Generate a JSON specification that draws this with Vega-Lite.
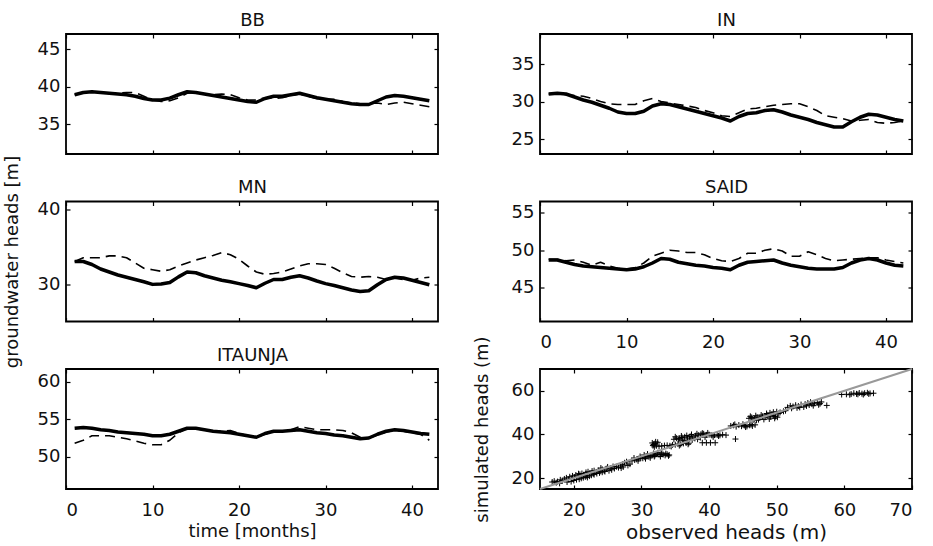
{
  "$schema": "https://vega.github.io/schema/vega-lite/v6.json",
  "background": "white",
  "padding": {"left": 2, "top": 10, "right": 5, "bottom": 5},
  "columns": 2,
  "spacing": {"row": 47.5, "column": 102},
  "bounds": "flush",
  "config": {
    "font": "DejaVu Sans",
    "view": {"stroke": "black", "strokeWidth": 1.8},
    "axis": {"domain": false, "grid": false, "tickColor": "black", "tickSize": -4, "tickWidth": 1.2,
             "labelFont": "DejaVu Sans", "labelFontSize": 18, "labelColor": "#111", "labelPadding": 10,
             "titleFont": "DejaVu Sans", "titleFontSize": 18, "titleFontWeight": "normal", "titleColor": "#111"},
    "axisBottom": {"labelPadding": 16, "titlePadding": 3},
    "axisLeft": {"titlePadding": 16},
    "axisTop": {"titlePadding": 4},
    "line": {"strokeJoin": "round"}
  },
  "datasets": {
    "ts": [
      {"site":"BB","t":1,"sim":38.9,"obs":38.9},{"site":"BB","t":2,"sim":39.2,"obs":39.2},{"site":"BB","t":3,"sim":39.3,"obs":39.3},{"site":"BB","t":4,"sim":39.2,"obs":39.2},{"site":"BB","t":5,"sim":39.1,"obs":39.1},{"site":"BB","t":6,"sim":39.0,"obs":39.1},{"site":"BB","t":7,"sim":38.9,"obs":39.2},{"site":"BB","t":8,"sim":38.7,"obs":39.2},{"site":"BB","t":9,"sim":38.4,"obs":38.7},{"site":"BB","t":10,"sim":38.2,"obs":38.2},{"site":"BB","t":11,"sim":38.2,"obs":38.0},{"site":"BB","t":12,"sim":38.45,"obs":38.1},{"site":"BB","t":13,"sim":38.9,"obs":38.5},{"site":"BB","t":14,"sim":39.3,"obs":39.1},{"site":"BB","t":15,"sim":39.2,"obs":39.2},{"site":"BB","t":16,"sim":39.0,"obs":39.0},{"site":"BB","t":17,"sim":38.8,"obs":38.9},{"site":"BB","t":18,"sim":38.6,"obs":39.0},{"site":"BB","t":19,"sim":38.4,"obs":38.9},{"site":"BB","t":20,"sim":38.2,"obs":38.5},{"site":"BB","t":21,"sim":38.0,"obs":38.2},{"site":"BB","t":22,"sim":37.9,"obs":38.2},{"site":"BB","t":23,"sim":38.4,"obs":38.5},{"site":"BB","t":24,"sim":38.7,"obs":38.4},{"site":"BB","t":25,"sim":38.7,"obs":38.5},{"site":"BB","t":26,"sim":38.9,"obs":38.8},{"site":"BB","t":27,"sim":39.1,"obs":39.0},{"site":"BB","t":28,"sim":38.8,"obs":38.7},{"site":"BB","t":29,"sim":38.5,"obs":38.4},{"site":"BB","t":30,"sim":38.3,"obs":38.3},{"site":"BB","t":31,"sim":38.1,"obs":38.3},{"site":"BB","t":32,"sim":37.9,"obs":38.0},{"site":"BB","t":33,"sim":37.7,"obs":37.8},{"site":"BB","t":34,"sim":37.6,"obs":37.7},{"site":"BB","t":35,"sim":37.6,"obs":37.7},{"site":"BB","t":36,"sim":38.1,"obs":37.8},{"site":"BB","t":37,"sim":38.6,"obs":37.6},{"site":"BB","t":38,"sim":38.8,"obs":37.8},{"site":"BB","t":39,"sim":38.7,"obs":37.9},{"site":"BB","t":40,"sim":38.5,"obs":37.7},{"site":"BB","t":41,"sim":38.3,"obs":37.5},{"site":"BB","t":42,"sim":38.1,"obs":37.3},
      {"site":"IN","t":1,"sim":31.0,"obs":31.0},{"site":"IN","t":2,"sim":31.1,"obs":31.0},{"site":"IN","t":3,"sim":31.0,"obs":30.9},{"site":"IN","t":4,"sim":30.6,"obs":30.8},{"site":"IN","t":5,"sim":30.2,"obs":30.7},{"site":"IN","t":6,"sim":29.9,"obs":30.4},{"site":"IN","t":7,"sim":29.5,"obs":30.0},{"site":"IN","t":8,"sim":29.1,"obs":29.7},{"site":"IN","t":9,"sim":28.6,"obs":29.6},{"site":"IN","t":10,"sim":28.4,"obs":29.6},{"site":"IN","t":11,"sim":28.4,"obs":29.6},{"site":"IN","t":12,"sim":28.7,"obs":30.1},{"site":"IN","t":13,"sim":29.4,"obs":30.4},{"site":"IN","t":14,"sim":29.7,"obs":30.0},{"site":"IN","t":15,"sim":29.6,"obs":29.8},{"site":"IN","t":16,"sim":29.3,"obs":29.6},{"site":"IN","t":17,"sim":29.0,"obs":29.4},{"site":"IN","t":18,"sim":28.7,"obs":29.2},{"site":"IN","t":19,"sim":28.4,"obs":28.8},{"site":"IN","t":20,"sim":28.1,"obs":28.5},{"site":"IN","t":21,"sim":27.8,"obs":28.1},{"site":"IN","t":22,"sim":27.4,"obs":28.0},{"site":"IN","t":23,"sim":28.0,"obs":28.5},{"site":"IN","t":24,"sim":28.4,"obs":29.0},{"site":"IN","t":25,"sim":28.5,"obs":29.1},{"site":"IN","t":26,"sim":28.8,"obs":29.3},{"site":"IN","t":27,"sim":28.9,"obs":29.5},{"site":"IN","t":28,"sim":28.6,"obs":29.6},{"site":"IN","t":29,"sim":28.2,"obs":29.7},{"site":"IN","t":30,"sim":27.9,"obs":29.7},{"site":"IN","t":31,"sim":27.6,"obs":29.3},{"site":"IN","t":32,"sim":27.2,"obs":28.8},{"site":"IN","t":33,"sim":26.9,"obs":28.1},{"site":"IN","t":34,"sim":26.6,"obs":27.9},{"site":"IN","t":35,"sim":26.6,"obs":27.7},{"site":"IN","t":36,"sim":27.3,"obs":27.4},{"site":"IN","t":37,"sim":27.9,"obs":27.5},{"site":"IN","t":38,"sim":28.3,"obs":27.6},{"site":"IN","t":39,"sim":28.2,"obs":27.2},{"site":"IN","t":40,"sim":27.9,"obs":27.1},{"site":"IN","t":41,"sim":27.6,"obs":27.2},{"site":"IN","t":42,"sim":27.4,"obs":27.4},
      {"site":"MN","t":1,"sim":33.0,"obs":33.0},{"site":"MN","t":2,"sim":33.0,"obs":33.5},{"site":"MN","t":3,"sim":32.6,"obs":33.5},{"site":"MN","t":4,"sim":32.0,"obs":33.5},{"site":"MN","t":5,"sim":31.6,"obs":33.75},{"site":"MN","t":6,"sim":31.2,"obs":33.75},{"site":"MN","t":7,"sim":30.9,"obs":33.5},{"site":"MN","t":8,"sim":30.6,"obs":32.8},{"site":"MN","t":9,"sim":30.3,"obs":32.1},{"site":"MN","t":10,"sim":29.95,"obs":31.9},{"site":"MN","t":11,"sim":30.0,"obs":31.7},{"site":"MN","t":12,"sim":30.2,"obs":31.9},{"site":"MN","t":13,"sim":30.95,"obs":32.4},{"site":"MN","t":14,"sim":31.6,"obs":32.8},{"site":"MN","t":15,"sim":31.5,"obs":33.2},{"site":"MN","t":16,"sim":31.1,"obs":33.5},{"site":"MN","t":17,"sim":30.8,"obs":33.8},{"site":"MN","t":18,"sim":30.5,"obs":34.2},{"site":"MN","t":19,"sim":30.3,"obs":33.9},{"site":"MN","t":20,"sim":30.05,"obs":33.3},{"site":"MN","t":21,"sim":29.8,"obs":32.4},{"site":"MN","t":22,"sim":29.5,"obs":31.6},{"site":"MN","t":23,"sim":30.1,"obs":31.3},{"site":"MN","t":24,"sim":30.6,"obs":31.4},{"site":"MN","t":25,"sim":30.6,"obs":31.6},{"site":"MN","t":26,"sim":30.9,"obs":32.0},{"site":"MN","t":27,"sim":31.1,"obs":32.4},{"site":"MN","t":28,"sim":30.8,"obs":32.7},{"site":"MN","t":29,"sim":30.4,"obs":32.7},{"site":"MN","t":30,"sim":30.05,"obs":32.6},{"site":"MN","t":31,"sim":29.8,"obs":32.1},{"site":"MN","t":32,"sim":29.5,"obs":31.5},{"site":"MN","t":33,"sim":29.2,"obs":31.0},{"site":"MN","t":34,"sim":29.0,"obs":30.9},{"site":"MN","t":35,"sim":29.1,"obs":31.0},{"site":"MN","t":36,"sim":29.9,"obs":30.9},{"site":"MN","t":37,"sim":30.6,"obs":30.6},{"site":"MN","t":38,"sim":30.9,"obs":30.8},{"site":"MN","t":39,"sim":30.8,"obs":30.6},{"site":"MN","t":40,"sim":30.5,"obs":30.5},{"site":"MN","t":41,"sim":30.2,"obs":30.8},{"site":"MN","t":42,"sim":29.9,"obs":30.9},
      {"site":"SAID","t":1,"sim":48.7,"obs":48.8},{"site":"SAID","t":2,"sim":48.7,"obs":48.8},{"site":"SAID","t":3,"sim":48.4,"obs":48.6},{"site":"SAID","t":4,"sim":48.1,"obs":48.7},{"site":"SAID","t":5,"sim":47.9,"obs":48.4},{"site":"SAID","t":6,"sim":47.8,"obs":48.0},{"site":"SAID","t":7,"sim":47.7,"obs":48.4},{"site":"SAID","t":8,"sim":47.6,"obs":47.9},{"site":"SAID","t":9,"sim":47.5,"obs":47.6},{"site":"SAID","t":10,"sim":47.4,"obs":47.5},{"site":"SAID","t":11,"sim":47.5,"obs":47.7},{"site":"SAID","t":12,"sim":47.8,"obs":48.3},{"site":"SAID","t":13,"sim":48.3,"obs":49.2},{"site":"SAID","t":14,"sim":48.9,"obs":49.6},{"site":"SAID","t":15,"sim":48.8,"obs":50.0},{"site":"SAID","t":16,"sim":48.4,"obs":49.9},{"site":"SAID","t":17,"sim":48.2,"obs":49.7},{"site":"SAID","t":18,"sim":48.0,"obs":49.7},{"site":"SAID","t":19,"sim":47.9,"obs":49.4},{"site":"SAID","t":20,"sim":47.7,"obs":48.9},{"site":"SAID","t":21,"sim":47.6,"obs":48.6},{"site":"SAID","t":22,"sim":47.4,"obs":48.5},{"site":"SAID","t":23,"sim":48.0,"obs":48.9},{"site":"SAID","t":24,"sim":48.4,"obs":49.6},{"site":"SAID","t":25,"sim":48.5,"obs":49.6},{"site":"SAID","t":26,"sim":48.6,"obs":50.0},{"site":"SAID","t":27,"sim":48.7,"obs":50.2},{"site":"SAID","t":28,"sim":48.3,"obs":49.9},{"site":"SAID","t":29,"sim":48.0,"obs":49.2},{"site":"SAID","t":30,"sim":47.8,"obs":49.2},{"site":"SAID","t":31,"sim":47.6,"obs":49.8},{"site":"SAID","t":32,"sim":47.5,"obs":49.4},{"site":"SAID","t":33,"sim":47.5,"obs":48.9},{"site":"SAID","t":34,"sim":47.5,"obs":48.6},{"site":"SAID","t":35,"sim":47.7,"obs":48.7},{"site":"SAID","t":36,"sim":48.3,"obs":48.8},{"site":"SAID","t":37,"sim":48.7,"obs":48.9},{"site":"SAID","t":38,"sim":48.9,"obs":49.0},{"site":"SAID","t":39,"sim":48.7,"obs":49.0},{"site":"SAID","t":40,"sim":48.3,"obs":48.7},{"site":"SAID","t":41,"sim":48.0,"obs":48.5},{"site":"SAID","t":42,"sim":47.9,"obs":48.3},
      {"site":"ITAUNJA","t":1,"sim":53.8,"obs":51.8},{"site":"ITAUNJA","t":2,"sim":53.9,"obs":52.2},{"site":"ITAUNJA","t":3,"sim":53.8,"obs":52.8},{"site":"ITAUNJA","t":4,"sim":53.6,"obs":52.8},{"site":"ITAUNJA","t":5,"sim":53.5,"obs":52.8},{"site":"ITAUNJA","t":6,"sim":53.3,"obs":52.6},{"site":"ITAUNJA","t":7,"sim":53.2,"obs":52.4},{"site":"ITAUNJA","t":8,"sim":53.1,"obs":52.1},{"site":"ITAUNJA","t":9,"sim":53.0,"obs":51.8},{"site":"ITAUNJA","t":10,"sim":52.8,"obs":51.6},{"site":"ITAUNJA","t":11,"sim":52.8,"obs":51.6},{"site":"ITAUNJA","t":12,"sim":53.0,"obs":52.2},{"site":"ITAUNJA","t":13,"sim":53.4,"obs":53.2},{"site":"ITAUNJA","t":14,"sim":53.8,"obs":53.8},{"site":"ITAUNJA","t":15,"sim":53.8,"obs":53.7},{"site":"ITAUNJA","t":16,"sim":53.6,"obs":53.6},{"site":"ITAUNJA","t":17,"sim":53.4,"obs":53.4},{"site":"ITAUNJA","t":18,"sim":53.3,"obs":53.4},{"site":"ITAUNJA","t":19,"sim":53.2,"obs":53.5},{"site":"ITAUNJA","t":20,"sim":53.0,"obs":53.1},{"site":"ITAUNJA","t":21,"sim":52.8,"obs":52.8},{"site":"ITAUNJA","t":22,"sim":52.6,"obs":52.6},{"site":"ITAUNJA","t":23,"sim":53.1,"obs":53.0},{"site":"ITAUNJA","t":24,"sim":53.4,"obs":53.3},{"site":"ITAUNJA","t":25,"sim":53.4,"obs":53.4},{"site":"ITAUNJA","t":26,"sim":53.5,"obs":53.6},{"site":"ITAUNJA","t":27,"sim":53.6,"obs":54.0},{"site":"ITAUNJA","t":28,"sim":53.4,"obs":53.8},{"site":"ITAUNJA","t":29,"sim":53.2,"obs":53.6},{"site":"ITAUNJA","t":30,"sim":53.1,"obs":53.6},{"site":"ITAUNJA","t":31,"sim":52.9,"obs":53.6},{"site":"ITAUNJA","t":32,"sim":52.8,"obs":53.5},{"site":"ITAUNJA","t":33,"sim":52.6,"obs":53.2},{"site":"ITAUNJA","t":34,"sim":52.4,"obs":52.6},{"site":"ITAUNJA","t":35,"sim":52.5,"obs":52.5},{"site":"ITAUNJA","t":36,"sim":53.0,"obs":52.9},{"site":"ITAUNJA","t":37,"sim":53.4,"obs":53.3},{"site":"ITAUNJA","t":38,"sim":53.6,"obs":53.5},{"site":"ITAUNJA","t":39,"sim":53.5,"obs":53.4},{"site":"ITAUNJA","t":40,"sim":53.3,"obs":53.2},{"site":"ITAUNJA","t":41,"sim":53.1,"obs":53.0},{"site":"ITAUNJA","t":42,"sim":53.0,"obs":52.2}
    ],
    "scatter": [
      {"obs":16.8,"sim":18.2},{"obs":17.1,"sim":18.6},{"obs":17.4,"sim":17.9},{"obs":17.6,"sim":18.4},{"obs":17.9,"sim":17.6},{"obs":18.3,"sim":18.9},{"obs":18.6,"sim":19.6},{"obs":18.9,"sim":20.1},{"obs":19.2,"sim":19.4},{"obs":19.0,"sim":18.2},
      {"obs":19.4,"sim":20.6},{"obs":19.8,"sim":21.0},{"obs":20.1,"sim":20.4},{"obs":20.3,"sim":21.4},{"obs":20.6,"sim":20.9},{"obs":20.9,"sim":21.7},{"obs":21.2,"sim":22.1},{"obs":21.5,"sim":21.5},{"obs":21.8,"sim":22.6},{"obs":22.1,"sim":22.9},{"obs":22.4,"sim":22.3},{"obs":22.7,"sim":23.2},{"obs":23.0,"sim":23.4},{"obs":23.3,"sim":22.8},{"obs":23.6,"sim":23.5},{"obs":23.9,"sim":23.1},{"obs":24.2,"sim":24.0},{"obs":24.5,"sim":23.3},{"obs":24.8,"sim":24.3},{"obs":25.0,"sim":25.1},
      {"obs":19.6,"sim":18.4},{"obs":20.0,"sim":18.9},{"obs":20.4,"sim":19.3},{"obs":20.8,"sim":19.5},{"obs":21.1,"sim":19.9},{"obs":21.4,"sim":20.2},{"obs":21.7,"sim":20.6},{"obs":22.0,"sim":20.3},{"obs":22.3,"sim":20.9},{"obs":22.6,"sim":21.3},{"obs":23.0,"sim":21.6},{"obs":23.4,"sim":22.1},{"obs":23.8,"sim":22.4},{"obs":24.2,"sim":22.7},{"obs":24.6,"sim":23.0},{"obs":25.2,"sim":23.4},{"obs":25.6,"sim":23.8},{"obs":26.0,"sim":24.4},
      {"obs":18.0,"sim":19.2},{"obs":19.7,"sim":19.8},{"obs":20.7,"sim":22.0},{"obs":21.9,"sim":21.1},{"obs":22.9,"sim":22.0},{"obs":24.0,"sim":24.6},{"obs":25.4,"sim":24.6},{"obs":25.8,"sim":25.3},
      {"obs":26.3,"sim":25.2},{"obs":26.6,"sim":24.8},{"obs":26.9,"sim":25.6},{"obs":27.2,"sim":26.3},{"obs":27.5,"sim":27.0},{"obs":27.8,"sim":27.5},{"obs":27.3,"sim":25.1},{"obs":28.0,"sim":25.8},{"obs":28.3,"sim":26.4},{"obs":27.0,"sim":24.6},
      {"obs":28.6,"sim":27.9},{"obs":29.0,"sim":28.3},{"obs":29.3,"sim":28.6},{"obs":29.6,"sim":28.9},{"obs":29.9,"sim":29.3},{"obs":30.2,"sim":29.1},{"obs":30.5,"sim":29.6},{"obs":30.8,"sim":30.0},{"obs":31.1,"sim":29.8},{"obs":31.4,"sim":30.3},{"obs":31.7,"sim":30.6},{"obs":32.0,"sim":30.4},{"obs":32.3,"sim":30.9},{"obs":32.6,"sim":30.7},{"obs":32.9,"sim":31.0},{"obs":33.2,"sim":30.8},{"obs":33.5,"sim":30.4},{"obs":33.8,"sim":30.9},{"obs":34.1,"sim":30.6},{"obs":33.0,"sim":31.5},{"obs":32.4,"sim":31.6},{"obs":31.8,"sim":31.3},{"obs":30.9,"sim":31.0},{"obs":29.8,"sim":29.9},{"obs":30.4,"sim":30.6},
      {"obs":28.9,"sim":29.2},{"obs":29.5,"sim":27.9},{"obs":30.6,"sim":28.9},{"obs":31.3,"sim":29.3},{"obs":31.9,"sim":29.9},{"obs":32.8,"sim":29.9},{"obs":33.6,"sim":31.2},{"obs":34.0,"sim":30.2},
      {"obs":31.6,"sim":36.1},{"obs":31.8,"sim":35.4},{"obs":32.0,"sim":35.8},{"obs":32.2,"sim":34.8},{"obs":31.9,"sim":34.3},{"obs":32.4,"sim":36.4},{"obs":32.6,"sim":34.6},{"obs":33.0,"sim":34.7},{"obs":33.4,"sim":34.9},{"obs":33.8,"sim":35.0},{"obs":34.2,"sim":34.8},{"obs":34.6,"sim":35.2},{"obs":35.0,"sim":35.3},{"obs":35.4,"sim":35.6},{"obs":35.8,"sim":35.4},{"obs":36.2,"sim":35.9},{"obs":36.6,"sim":36.1},{"obs":37.0,"sim":36.0},
      {"obs":31.7,"sim":34.9},{"obs":32.1,"sim":36.6},{"obs":34.4,"sim":34.5},{"obs":35.6,"sim":34.9},{"obs":36.9,"sim":35.5},
      {"obs":34.8,"sim":37.8},{"obs":35.2,"sim":38.3},{"obs":35.6,"sim":38.1},{"obs":36.0,"sim":38.6},{"obs":36.4,"sim":38.9},{"obs":36.8,"sim":38.4},{"obs":37.2,"sim":39.1},{"obs":37.6,"sim":38.8},{"obs":38.0,"sim":39.4},{"obs":38.4,"sim":39.7},{"obs":38.8,"sim":40.1},{"obs":39.2,"sim":40.3},{"obs":39.6,"sim":39.8},{"obs":40.0,"sim":39.9},{"obs":35.5,"sim":37.6},{"obs":36.3,"sim":37.4},{"obs":37.1,"sim":37.9},{"obs":37.9,"sim":38.2},{"obs":38.7,"sim":38.6},{"obs":39.4,"sim":38.8},
      {"obs":35.0,"sim":38.9},{"obs":35.9,"sim":39.3},{"obs":36.7,"sim":39.5},{"obs":37.4,"sim":40.0},{"obs":38.2,"sim":40.3},{"obs":39.0,"sim":40.6},{"obs":39.8,"sim":40.7},{"obs":36.1,"sim":37.1},{"obs":37.5,"sim":37.5},{"obs":38.3,"sim":37.8},{"obs":40.6,"sim":38.9},{"obs":41.4,"sim":39.3},
      {"obs":39.0,"sim":36.2},{"obs":39.6,"sim":36.2},{"obs":40.2,"sim":36.2},{"obs":40.9,"sim":36.2},{"obs":40.4,"sim":39.6},{"obs":40.8,"sim":39.7},{"obs":41.2,"sim":39.8},{"obs":41.6,"sim":39.6},{"obs":42.0,"sim":39.9},{"obs":42.5,"sim":39.7},{"obs":43.9,"sim":37.9},
      {"obs":43.2,"sim":43.9},{"obs":43.6,"sim":44.2},{"obs":44.0,"sim":43.6},{"obs":44.4,"sim":44.3},{"obs":44.8,"sim":43.8},{"obs":45.2,"sim":44.1},{"obs":45.6,"sim":43.7},{"obs":46.0,"sim":44.2},{"obs":46.4,"sim":43.9},{"obs":46.8,"sim":44.4},
      {"obs":43.8,"sim":44.6},{"obs":45.0,"sim":44.7},{"obs":45.4,"sim":43.4},{"obs":46.2,"sim":44.5},
      {"obs":45.9,"sim":47.4},{"obs":46.3,"sim":47.8},{"obs":46.7,"sim":47.2},{"obs":47.1,"sim":48.0},{"obs":47.5,"sim":47.6},{"obs":47.9,"sim":48.3},{"obs":48.3,"sim":47.9},{"obs":48.7,"sim":48.5},{"obs":49.1,"sim":48.1},{"obs":49.5,"sim":48.7},{"obs":46.5,"sim":46.6},{"obs":47.3,"sim":46.8},{"obs":48.1,"sim":46.9},{"obs":48.9,"sim":47.1},{"obs":49.7,"sim":47.4},{"obs":50.1,"sim":47.9},
      {"obs":46.1,"sim":48.3},{"obs":46.9,"sim":48.6},{"obs":47.7,"sim":48.9},{"obs":48.5,"sim":49.0},{"obs":49.3,"sim":49.3},{"obs":47.0,"sim":46.5},{"obs":49.8,"sim":48.2},{"obs":50.3,"sim":49.6},{"obs":51.3,"sim":50.9},
      {"obs":48.5,"sim":49.6},{"obs":49.0,"sim":49.9},{"obs":49.5,"sim":50.2},{"obs":50.0,"sim":50.4},{"obs":50.5,"sim":50.1},{"obs":51.0,"sim":50.6},
      {"obs":51.6,"sim":52.4},{"obs":52.0,"sim":53.1},{"obs":52.4,"sim":52.8},{"obs":52.8,"sim":53.4},{"obs":53.2,"sim":53.0},{"obs":53.6,"sim":53.7},{"obs":54.0,"sim":52.6},{"obs":54.4,"sim":53.1},{"obs":54.8,"sim":53.5},{"obs":55.2,"sim":53.9},{"obs":55.6,"sim":54.3},{"obs":56.0,"sim":54.6},{"obs":56.4,"sim":54.1},{"obs":56.6,"sim":54.9},{"obs":53.0,"sim":52.2},{"obs":55.0,"sim":54.8},{"obs":57.4,"sim":53.3},
      {"obs":52.2,"sim":52.0},{"obs":53.4,"sim":52.4},{"obs":54.2,"sim":53.9},{"obs":55.4,"sim":53.2},{"obs":56.2,"sim":53.6},{"obs":54.6,"sim":54.4},
      {"obs":59.6,"sim":58.3},{"obs":60.3,"sim":58.4},{"obs":61.0,"sim":58.5},{"obs":61.4,"sim":58.9},{"obs":61.8,"sim":58.6},{"obs":62.2,"sim":59.0},{"obs":62.6,"sim":58.7},{"obs":63.0,"sim":58.9},{"obs":63.4,"sim":59.1},{"obs":63.8,"sim":58.8},{"obs":64.3,"sim":58.9},{"obs":62.0,"sim":58.4},
      {"obs":60.8,"sim":58.2},{"obs":62.8,"sim":58.3},{"obs":63.6,"sim":58.6}
    ],
    "diag": [{"obs":15,"sim":15},{"obs":70,"sim":70}]
  },
  "concat": [
    {
      "width": 372, "height": 120,
      "data": {"name": "ts"}, "transform": [{"filter": "datum.site === 'BB'"}],
      "layer": [
        {"mark": {"type": "line", "stroke": "black", "strokeWidth": 3.5},
         "encoding": {
           "x": {"field": "t", "type": "quantitative", "scale": {"domain": [0, 43], "nice": false, "zero": false}, "axis": {"orient": "bottom", "values": [0,10,20,30,40], "labels": false, "title": null}},
           "y": {"field": "sim", "type": "quantitative", "scale": {"domain": [31, 47], "nice": false, "zero": false}, "axis": {"orient": "left", "values": [35,40,45], "title": null}}}},
        {"mark": {"type": "line", "stroke": "black", "strokeWidth": 1.6, "strokeDash": [10, 6]},
         "encoding": {
           "x": {"field": "t", "type": "quantitative", "scale": {"domain": [0, 43], "nice": false, "zero": false}, "axis": {"orient": "top", "values": [0,10,20,30,40], "labels": false, "title": "BB"}},
           "y": {"field": "obs", "type": "quantitative", "scale": {"domain": [31, 47], "nice": false, "zero": false}, "axis": {"orient": "right", "values": [35,40,45], "labels": false, "title": null}}}}
      ],
      "resolve": {"axis": {"x": "independent", "y": "independent"}}
    },
    {
      "width": 372, "height": 120,
      "data": {"name": "ts"}, "transform": [{"filter": "datum.site === 'IN'"}],
      "layer": [
        {"mark": {"type": "line", "stroke": "black", "strokeWidth": 3.5},
         "encoding": {
           "x": {"field": "t", "type": "quantitative", "scale": {"domain": [0, 43], "nice": false, "zero": false}, "axis": {"orient": "bottom", "values": [0,10,20,30,40], "labels": false, "title": null}},
           "y": {"field": "sim", "type": "quantitative", "scale": {"domain": [23, 39], "nice": false, "zero": false}, "axis": {"orient": "left", "values": [25,30,35], "title": null}}}},
        {"mark": {"type": "line", "stroke": "black", "strokeWidth": 1.6, "strokeDash": [10, 6]},
         "encoding": {
           "x": {"field": "t", "type": "quantitative", "scale": {"domain": [0, 43], "nice": false, "zero": false}, "axis": {"orient": "top", "values": [0,10,20,30,40], "labels": false, "title": "IN"}},
           "y": {"field": "obs", "type": "quantitative", "scale": {"domain": [23, 39], "nice": false, "zero": false}, "axis": {"orient": "right", "values": [25,30,35], "labels": false, "title": null}}}}
      ],
      "resolve": {"axis": {"x": "independent", "y": "independent"}}
    },
    {
      "width": 372, "height": 120,
      "data": {"name": "ts"}, "transform": [{"filter": "datum.site === 'MN'"}],
      "layer": [
        {"mark": {"type": "line", "stroke": "black", "strokeWidth": 3.5},
         "encoding": {
           "x": {"field": "t", "type": "quantitative", "scale": {"domain": [0, 43], "nice": false, "zero": false}, "axis": {"orient": "bottom", "values": [0,10,20,30,40], "labels": false, "title": null}},
           "y": {"field": "sim", "type": "quantitative", "scale": {"domain": [25, 41], "nice": false, "zero": false}, "axis": {"orient": "left", "values": [30,40], "title": "groundwater heads [m]"}}}},
        {"mark": {"type": "line", "stroke": "black", "strokeWidth": 1.6, "strokeDash": [10, 6]},
         "encoding": {
           "x": {"field": "t", "type": "quantitative", "scale": {"domain": [0, 43], "nice": false, "zero": false}, "axis": {"orient": "top", "values": [0,10,20,30,40], "labels": false, "title": "MN"}},
           "y": {"field": "obs", "type": "quantitative", "scale": {"domain": [25, 41], "nice": false, "zero": false}, "axis": {"orient": "right", "values": [30,40], "labels": false, "title": null}}}}
      ],
      "resolve": {"axis": {"x": "independent", "y": "independent"}}
    },
    {
      "width": 372, "height": 120,
      "data": {"name": "ts"}, "transform": [{"filter": "datum.site === 'SAID'"}],
      "layer": [
        {"mark": {"type": "line", "stroke": "black", "strokeWidth": 3.5},
         "encoding": {
           "x": {"field": "t", "type": "quantitative", "scale": {"domain": [0, 43], "nice": false, "zero": false}, "axis": {"orient": "bottom", "values": [0,10,20,30,40], "title": null}},
           "y": {"field": "sim", "type": "quantitative", "scale": {"domain": [40.5, 56.5], "nice": false, "zero": false}, "axis": {"orient": "left", "values": [45,50,55], "title": null}}}},
        {"mark": {"type": "line", "stroke": "black", "strokeWidth": 1.6, "strokeDash": [10, 6]},
         "encoding": {
           "x": {"field": "t", "type": "quantitative", "scale": {"domain": [0, 43], "nice": false, "zero": false}, "axis": {"orient": "top", "values": [0,10,20,30,40], "labels": false, "title": "SAID"}},
           "y": {"field": "obs", "type": "quantitative", "scale": {"domain": [40.5, 56.5], "nice": false, "zero": false}, "axis": {"orient": "right", "values": [45,50,55], "labels": false, "title": null}}}}
      ],
      "resolve": {"axis": {"x": "independent", "y": "independent"}}
    },
    {
      "width": 372, "height": 120,
      "data": {"name": "ts"}, "transform": [{"filter": "datum.site === 'ITAUNJA'"}],
      "layer": [
        {"mark": {"type": "line", "stroke": "black", "strokeWidth": 3.5},
         "encoding": {
           "x": {"field": "t", "type": "quantitative", "scale": {"domain": [0, 43], "nice": false, "zero": false}, "axis": {"orient": "bottom", "values": [0,10,20,30,40], "title": "time [months]"}},
           "y": {"field": "sim", "type": "quantitative", "scale": {"domain": [45.7, 61.7], "nice": false, "zero": false}, "axis": {"orient": "left", "values": [50,55,60], "title": null}}}},
        {"mark": {"type": "line", "stroke": "black", "strokeWidth": 1.6, "strokeDash": [10, 6]},
         "encoding": {
           "x": {"field": "t", "type": "quantitative", "scale": {"domain": [0, 43], "nice": false, "zero": false}, "axis": {"orient": "top", "values": [0,10,20,30,40], "labels": false, "title": "ITAUNJA"}},
           "y": {"field": "obs", "type": "quantitative", "scale": {"domain": [45.7, 61.7], "nice": false, "zero": false}, "axis": {"orient": "right", "values": [50,55,60], "labels": false, "title": null}}}}
      ],
      "resolve": {"axis": {"x": "independent", "y": "independent"}}
    },
    {
      "width": 372, "height": 120,
      "layer": [
        {"data": {"name": "scatter"},
         "mark": {"type": "point", "shape": "M-1,0L1,0M0,-1L0,1", "filled": false, "stroke": "black", "strokeWidth": 1, "size": 36, "opacity": 1},
         "encoding": {
           "x": {"field": "obs", "type": "quantitative", "scale": {"domain": [15, 70], "nice": false, "zero": false}, "axis": {"orient": "bottom", "values": [20,30,40,50,60,70], "title": "observed heads (m)", "titleFontSize": 20}},
           "y": {"field": "sim", "type": "quantitative", "scale": {"domain": [15, 70], "nice": false, "zero": false}, "axis": {"orient": "left", "values": [20,40,60], "title": "simulated heads (m)", "titlePadding": 20}}}},
        {"data": {"name": "diag"},
         "mark": {"type": "line", "stroke": "#999999", "strokeWidth": 2},
         "encoding": {
           "x": {"field": "obs", "type": "quantitative", "scale": {"domain": [15, 70], "nice": false, "zero": false}, "axis": {"orient": "top", "values": [20,30,40,50,60,70], "labels": false, "title": null}},
           "y": {"field": "sim", "type": "quantitative", "scale": {"domain": [15, 70], "nice": false, "zero": false}, "axis": {"orient": "right", "values": [20,40,60], "labels": false, "title": null}}}}
      ],
      "resolve": {"axis": {"x": "independent", "y": "independent"}}
    }
  ]
}
